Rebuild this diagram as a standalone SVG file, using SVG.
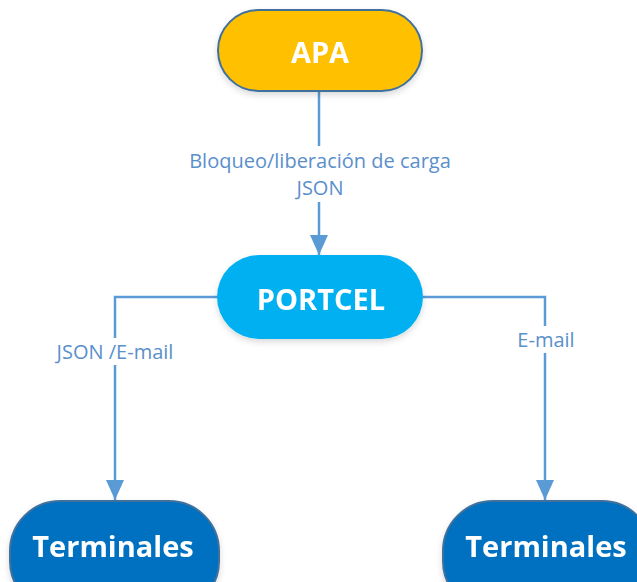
<svg xmlns="http://www.w3.org/2000/svg" width="637" height="582" viewBox="0 0 637 582">
<style>
.node{stroke:#41719C;stroke-width:2}
.ntext{font-family:"Open Sans","Liberation Sans",sans-serif;font-weight:bold;fill:#FFFFFF;text-anchor:middle;dominant-baseline:central}
.conn{fill:none;stroke:#5B9BD5;stroke-width:2.5}
.lbl{font-family:"Open Sans","Liberation Sans",sans-serif;font-size:20px;fill:#5A8FCB;text-anchor:middle}
</style>
<defs>
<marker id="arrbig" viewBox="0 0 20 18" refX="20" refY="9" markerWidth="20" markerHeight="18" orient="auto" markerUnits="userSpaceOnUse">
<path d="M0,0 L20,9 L0,18 Z" fill="#5B9BD5"/>
</marker>
<filter id="sh" x="-10%" y="-10%" width="120%" height="130%">
<feDropShadow dx="0" dy="3" stdDeviation="3" flood-color="#000" flood-opacity="0.15"/>
</filter>
</defs>
<g id="connectors">
<line class="conn" x1="319" y1="91" x2="319" y2="255" marker-end="url(#arrbig)"/>
<polyline class="conn" points="217,297 115,297 115,500" marker-end="url(#arrbig)"/>
<polyline class="conn" points="423,297 545,297 545,500" marker-end="url(#arrbig)"/>
<rect x="180" y="146" width="280" height="56" fill="#FFFFFF"/>
<text class="lbl" x="320" y="168">Bloqueo/liberación de carga</text>
<text class="lbl" x="320" y="195">JSON</text>
<rect x="45" y="338" width="142" height="27" fill="#FFFFFF"/>
<text class="lbl" x="115" y="359">JSON /E-mail</text>
<rect x="510" y="326" width="72" height="27" fill="#FFFFFF"/>
<text class="lbl" x="546" y="347">E-mail</text>
</g>
<g id="apa" filter="url(#sh)">
<rect class="node" x="218" y="10" width="204" height="81" rx="40.5" fill="#FFC000"/>
<text class="ntext" x="320" y="51" font-size="29">APA</text>
</g>
<g id="portcel" filter="url(#sh)">
<rect x="217" y="255" width="206" height="84" rx="42" fill="#00B0F0"/>
<text class="ntext" x="321" y="298" font-size="29">PORTCEL</text>
</g>
<g id="terminales-left" filter="url(#sh)">
<rect class="node" x="10" y="501" width="209" height="110" rx="50" fill="#0070C0"/>
<text class="ntext" x="113" y="545" font-size="29">Terminales</text>
</g>
<g id="terminales-right" filter="url(#sh)">
<rect class="node" x="443" y="501" width="209" height="110" rx="50" fill="#0070C0"/>
<text class="ntext" x="546" y="545" font-size="29">Terminales</text>
</g>
</svg>
